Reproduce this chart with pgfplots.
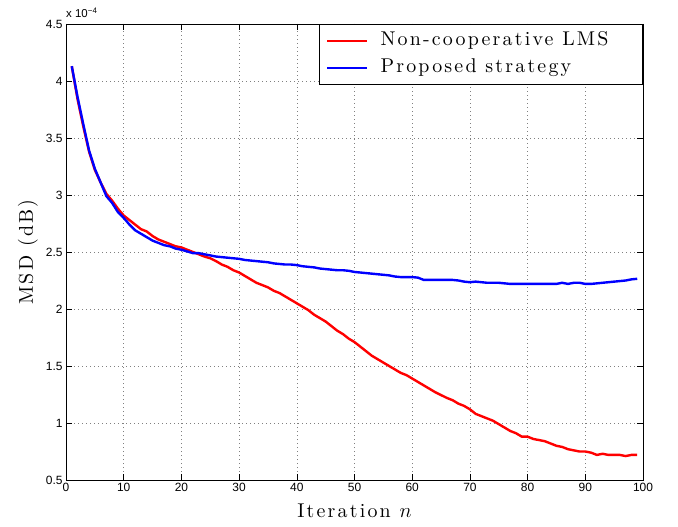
\documentclass[border=0pt]{standalone}
\usepackage{fontspec}
\usepackage{pgfplots}
\pgfplotsset{compat=1.18}
\newfontfamily\arial{Liberation Sans}
\newfontfamily\lmten{lmroman10-regular}[Extension=.otf, LetterSpace=11]
\newcommand\labfont{\lmten\fontsize{20}{23}\selectfont}
\pgfplotstableread{
x y
1 4.13
2 3.84
3 3.60
4 3.38
5 3.22
6 3.11
7 3.01
8 2.95
9 2.88
10 2.82
11 2.78
12 2.74
13 2.70
14 2.68
15 2.64
16 2.61
17 2.59
18 2.57
19 2.55
20 2.54
21 2.52
22 2.50
23 2.48
24 2.46
25 2.445
26 2.42
27 2.39
28 2.37
29 2.34
30 2.32
31 2.29
32 2.26
33 2.23
34 2.21
35 2.19
36 2.16
37 2.14
38 2.11
39 2.08
40 2.05
41 2.02
42 1.99
43 1.95
44 1.92
45 1.89
46 1.85
47 1.81
48 1.78
49 1.74
50 1.71
51 1.67
52 1.63
53 1.59
54 1.56
55 1.53
56 1.50
57 1.47
58 1.44
59 1.42
60 1.39
61 1.36
62 1.33
63 1.30
64 1.27
65 1.245
66 1.22
67 1.20
68 1.17
69 1.15
70 1.12
71 1.08
72 1.06
73 1.04
74 1.02
75 0.99
76 0.96
77 0.93
78 0.91
79 0.88
80 0.88
81 0.86
82 0.85
83 0.84
84 0.82
85 0.80
86 0.79
87 0.77
88 0.76
89 0.75
90 0.75
91 0.74
92 0.72
93 0.73
94 0.72
95 0.72
96 0.72
97 0.71
98 0.72
99 0.72
}\noncoop
\pgfplotstableread{
x y
1 4.13
2 3.86
3 3.62
4 3.39
5 3.23
6 3.11
7 2.99
8 2.93
9 2.85
10 2.80
11 2.74
12 2.69
13 2.66
14 2.63
15 2.60
16 2.58
17 2.56
18 2.55
19 2.53
20 2.52
21 2.505
22 2.49
23 2.49
24 2.48
25 2.47
26 2.46
27 2.455
28 2.45
29 2.445
30 2.44
31 2.43
32 2.425
33 2.42
34 2.415
35 2.41
36 2.40
37 2.395
38 2.39
39 2.39
40 2.385
41 2.375
42 2.37
43 2.365
44 2.355
45 2.35
46 2.345
47 2.34
48 2.34
49 2.335
50 2.325
51 2.32
52 2.315
53 2.31
54 2.305
55 2.30
56 2.295
57 2.285
58 2.28
59 2.28
60 2.28
61 2.275
62 2.255
63 2.255
64 2.255
65 2.255
66 2.255
67 2.255
68 2.25
69 2.24
70 2.235
71 2.24
72 2.235
73 2.23
74 2.23
75 2.23
76 2.225
77 2.22
78 2.22
79 2.22
80 2.22
81 2.22
82 2.22
83 2.22
84 2.22
85 2.22
86 2.23
87 2.22
88 2.23
89 2.23
90 2.22
91 2.22
92 2.225
93 2.23
94 2.235
95 2.24
96 2.245
97 2.25
98 2.26
99 2.265
}\proposed
\begin{document}
\begin{tikzpicture}
\path[use as bounding box] (-66bp,-47bp) rectangle (612bp,480bp);
\begin{axis}[
  at={(0,0)}, anchor=south west,
  scale only axis, width=577bp, height=456bp,
  xmin=0, xmax=100, ymin=0.5, ymax=4.5,
  xtick={0,10,...,100},
  ytick={0.5,1,...,4.5},
  tick align=inside,
  major tick length=6bp,
  tick style={black, line width=0.6bp},
  axis line style={black, line width=0.9bp},
  grid=major,
  major grid style={black!50, line width=0.5bp, dash pattern=on 0.8bp off 3.2bp},
  /pgf/number format/assume math mode=true,
  ticklabel style={font=\arial\fontsize{12}{14}\selectfont},
  xlabel={Iteration $n$},
  ylabel={MSD (dB)},
  label style={font=\labfont},
  xlabel style={at={(axis description cs:0.5,-0.0833)}, anchor=base},
  ylabel style={at={(axis description cs:-0.0572,0.5)}, anchor=base},
  legend style={at={(1,1)}, anchor=north east, draw=black, line width=0.9bp,
    font=\labfont, inner xsep=0bp, inner ysep=7bp, row sep=8bp, fill=white,
    nodes={inner xsep=0bp, inner ysep=0bp, text height=14bp, text depth=5bp}},
  legend cell align=left,
  legend image code/.code={\draw[#1, line width=1.4bp] (0bp,0bp) -- (40bp,0bp);
    \path (-7bp,0bp) (52bp,0bp);},
]
\addplot[red, line width=2.4bp] table[x=x,y=y] {\noncoop};
\addlegendentry{Non-cooperative LMS\hspace*{34bp}}
\addplot[blue, line width=2.4bp] table[x=x,y=y] {\proposed};
\addlegendentry{Proposed strategy}
\end{axis}
\node[anchor=base west, font=\arial\fontsize{11.5}{13}\selectfont, inner sep=0pt] at (0bp,462bp) {x 10\raisebox{0.75ex}{\fontsize{8}{9}\selectfont −4}};
\end{tikzpicture}
\end{document}
